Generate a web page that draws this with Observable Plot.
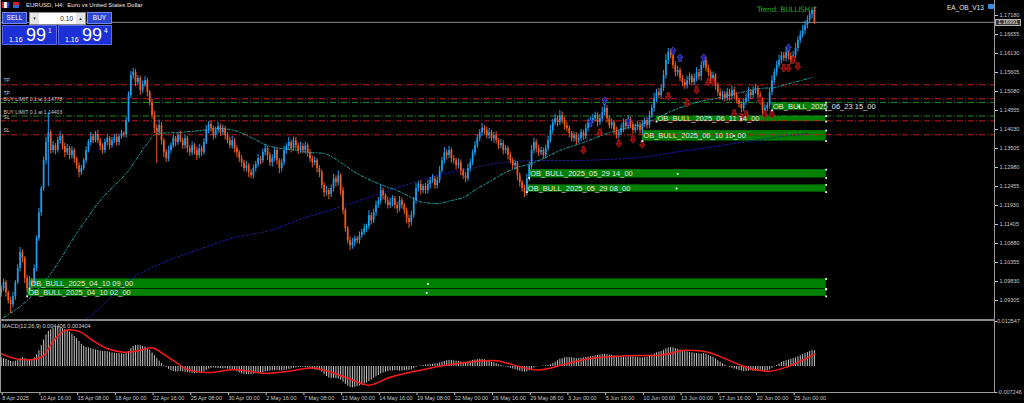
<!DOCTYPE html>
<html><head><meta charset="utf-8">
<script src="https://cdn.jsdelivr.net/npm/d3@7"></script>
<script src="https://cdn.jsdelivr.net/npm/@observablehq/plot@0.6"></script>
<style>
html,body{margin:0;padding:0;background:#000;}
#wrap{position:relative;width:1024px;height:403px;background:#000;overflow:hidden;font-family:"Liberation Sans","DejaVu Sans",Arial,sans-serif;}
.abs{position:absolute;white-space:nowrap;}
</style></head><body><div id="wrap"></div>
<script>
// ---------- DATA ----------
const firstOpen = 1.0950;
const closes = [
1.0963,1.0980,1.0952,1.0930,1.0919,1.0941,1.0980,1.1019,1.1063,1.1046,
1.0991,1.0963,1.0985,1.0974,1.1019,1.1101,1.1173,1.1240,1.1317,1.1367,
1.1394,1.1345,1.1358,1.1345,1.1372,1.1383,1.1356,1.1339,1.1350,1.1331,
1.1345,1.1322,1.1303,1.1284,1.1295,1.1317,1.1345,1.1367,1.1383,1.1372,
1.1389,1.1372,1.1356,1.1345,1.1367,1.1378,1.1358,1.1372,1.1381,1.1367,
1.1383,1.1392,1.1389,1.1428,1.1497,1.1552,1.1560,1.1533,1.1544,1.1511,
1.1527,1.1538,1.1505,1.1478,1.1441,1.1406,1.1394,1.1414,1.1372,1.1339,
1.1322,1.1345,1.1358,1.1378,1.1367,1.1386,1.1372,1.1358,1.1378,1.1350,
1.1339,1.1358,1.1345,1.1331,1.1350,1.1339,1.1367,1.1400,1.1417,1.1406,
1.1386,1.1400,1.1411,1.1394,1.1406,1.1386,1.1372,1.1358,1.1372,1.1350,
1.1339,1.1322,1.1311,1.1295,1.1303,1.1284,1.1275,1.1295,1.1306,1.1322,
1.1317,1.1339,1.1350,1.1331,1.1311,1.1322,1.1345,1.1317,1.1295,1.1311,
1.1345,1.1356,1.1367,1.1350,1.1372,1.1358,1.1345,1.1356,1.1345,1.1358,
1.1339,1.1322,1.1311,1.1317,1.1295,1.1284,1.1248,1.1228,1.1234,1.1223,
1.1240,1.1267,1.1256,1.1275,1.1234,1.1179,1.1129,1.1096,1.1082,1.1090,
1.1101,1.1096,1.1110,1.1118,1.1129,1.1135,1.1165,1.1151,1.1173,1.1193,
1.1206,1.1234,1.1220,1.1206,1.1193,1.1201,1.1212,1.1193,1.1184,1.1206,
1.1193,1.1179,1.1157,1.1146,1.1165,1.1206,1.1240,1.1251,1.1234,1.1245,
1.1234,1.1251,1.1262,1.1267,1.1248,1.1262,1.1289,1.1317,1.1339,1.1331,
1.1345,1.1322,1.1317,1.1303,1.1311,1.1289,1.1275,1.1267,1.1295,1.1311,
1.1339,1.1358,1.1378,1.1394,1.1406,1.1400,1.1386,1.1394,1.1378,1.1386,
1.1372,1.1358,1.1364,1.1345,1.1350,1.1331,1.1317,1.1303,1.1309,1.1275,
1.1256,1.1240,1.1228,1.1267,1.1303,1.1345,1.1367,1.1350,1.1339,1.1345,
1.1331,1.1350,1.1372,1.1400,1.1422,1.1433,1.1422,1.1441,1.1428,1.1414,
1.1406,1.1392,1.1378,1.1386,1.1372,1.1378,1.1394,1.1383,1.1406,1.1422,
1.1428,1.1433,1.1441,1.1422,1.1433,1.1450,1.1461,1.1433,1.1414,1.1422,
1.1400,1.1386,1.1394,1.1406,1.1422,1.1411,1.1428,1.1417,1.1400,1.1408,
1.1414,1.1400,1.1417,1.1428,1.1414,1.1441,1.1461,1.1489,1.1505,1.1497,
1.1516,1.1552,1.1594,1.1616,1.1607,1.1580,1.1560,1.1566,1.1544,1.1533,
1.1524,1.1538,1.1549,1.1533,1.1544,1.1560,1.1549,1.1580,1.1594,1.1572,
1.1560,1.1544,1.1552,1.1524,1.1505,1.1494,1.1500,1.1489,1.1505,1.1494,
1.1511,1.1497,1.1483,1.1472,1.1461,1.1478,1.1489,1.1505,1.1497,1.1511,
1.1516,1.1497,1.1483,1.1455,1.1461,1.1469,1.1505,1.1538,1.1560,1.1580,
1.1594,1.1607,1.1599,1.1616,1.1605,1.1594,1.1607,1.1627,1.1649,1.1663,
1.1676,1.1690,1.1705,1.1720,1.1732,1.1699];
// wick lengths in pips (0.0001)
const upWick = [
8,10,6,5,9,12,6,10,14,8, 6,9,12,7,10,8,12,6,10,15, 55,8,12,6,10,14,6,9,12,7,
10,6,5,8,9,6,10,8,12,7, 9,12,6,8,10,12,6,9,8,10, 7,9,6,8,10,12,12,9,8,6,
10,11,7,6,8,12,10,15,8,6, 9,12,8,10,6,9,12,7,10,6, 8,11,6,9,12,7,10,14,8,9,
6,10,12,7,9,6,8,10,12,6, 8,6,9,7,12,6,8,10,9,12, 7,10,12,6,8,11,9,7,6,10,
12,8,14,6,10,9,7,12,8,10, 6,9,7,10,6,8,7,9,12,6, 10,12,8,14,6,9,7,6,10,12,
8,6,10,9,12,7,14,8,10,12, 9,15,7,6,10,12,8,6,9,12, 8,6,7,10,12,9,14,8,10,7,
9,12,8,11,6,10,12,9,14,8, 12,7,9,6,10,8,6,9,12,10, 8,12,10,9,14,8,10,12,7,9,
10,6,12,8,9,6,8,7,10,6, 8,6,9,12,10,14,12,8,10,9, 7,10,12,14,9,12,8,14,10,8,
9,7,6,10,8,12,9,7,12,10, 9,12,10,8,12,14,28,8,7,10, 6,9,8,12,10,9,14,8,7,10,
12,8,10,9,8,12,10,14,9,12, 10,14,16,11,9,8,10,12,7,9, 8,12,10,7,12,14,9,10,12,8,
9,7,10,6,8,10,9,8,12,10, 12,8,9,6,7,10,12,14,8,10, 12,8,9,7,10,8,12,14,10,12,
14,10,9,12,8,10,12,14,10,12, 14,12,12,10,8,9];
const downWick = [
10,8,12,9,25,8,10,6,9,12, 14,10,8,12,6,9,7,10,8,12, 122,10,8,12,7,9,10,14,8,12,
9,12,10,14,8,6,9,7,10,8, 6,9,12,10,8,9,12,7,8,10, 9,7,8,10,6,9,10,12,8,14,
9,7,12,10,9,14,85,8,12,14, 10,8,9,7,12,8,6,10,9,12, 10,9,12,14,8,10,7,6,9,10,
12,8,9,10,7,12,9,8,10,12, 14,10,12,9,10,14,8,9,10,7, 12,8,9,14,10,12,8,12,14,9,
8,10,9,12,7,10,12,8,9,10, 12,10,14,8,12,14,10,12,9,14, 8,10,12,9,14,12,10,9,13,10,
12,9,10,8,7,10,9,12,8,10, 8,10,12,9,10,8,12,10,14,9, 10,12,14,16,10,8,9,10,12,8,
10,9,12,8,10,9,8,7,10,12, 9,12,10,12,9,14,10,12,8,9, 8,10,7,9,10,12,9,10,8,12,
9,10,8,12,10,12,9,10,12,14, 12,10,13,9,8,10,9,12,10,8, 10,9,8,7,10,9,12,8,10,12,
10,12,9,10,12,8,9,10,8,9, 10,8,9,12,8,9,10,12,9,10, 12,10,9,8,12,10,9,12,10,8,
9,10,12,8,10,9,8,10,12,9, 8,9,10,12,9,10,12,10,9,12, 10,9,12,10,8,9,10,12,8,10,
12,10,9,12,10,9,12,10,8,12, 10,12,9,10,12,9,8,10,12,9, 10,9,12,10,12,9,10,8,9,10,
9,10,8,9,10,12,9,8,10,9, 8,10,9,8,10,6];
// MACD main (histogram), units of 0.0001
const macdHist = [
24,22,20,17,14,13,15,18,22,24, 22,20,19,20,24,32,44,58,74,88, 98,102,106,108,109,108,106,103,100,96,
90,84,78,70,62,56,53,52,50,48, 46,45,43,42,42,41,40,38,37,36, 36,35,34,36,42,50,56,58,59,58,
56,54,50,45,38,30,22,15,8,2, -3,-8,-12,-14,-15,-15,-14,-15,-16,-17, -18,-19,-20,-19,-18,-17,-15,-11,-7,-5,
-4,-5,-6,-6,-7,-6,-7,-8,-10,-12, -15,-18,-20,-22,-23,-23,-22,-21,-20,-19, -18,-17,-15,-14,-13,-12,-12,-11,-12,-12,
-11,-10,-8,-7,-5,-4,-3,-3,-2,-3, -4,-6,-8,-10,-11,-12,-16,-22,-28,-32, -34,-33,-34,-35,-38,-44,-50,-55,-58,-59,
-58,-56,-54,-52,-49,-46,-42,-38,-33,-29, -25,-21,-18,-16,-14,-13,-12,-12,-12,-13, -13,-12,-12,-11,-9,-6,-3,0,2,3,
4,5,5,6,7,8,10,12,14,16, 17,17,16,15,14,13,12,12,13,15, 17,18,19,20,20,19,17,15,12,10,
8,5,3,1,-1,-3,-5,-7,-9,-11, -13,-15,-16,-15,-12,-8,-4,-1,0,1, 1,2,3,5,8,12,16,20,22,24,
25,25,24,23,22,22,23,24,25,26, 27,28,30,31,32,33,34,33,32,31, 30,29,28,27,26,26,26,27,27,26,
25,24,24,25,26,29,32,35,38,40, 42,45,49,52,53,52,50,48,46,44, 42,41,40,38,37,36,35,35,36,34,
31,28,25,21,16,12,8,4,0,-3, -5,-7,-9,-11,-13,-14,-14,-13,-12,-13, -13,-12,-12,-14,-14,-12,-9,-5,-1,3,
7,11,14,16,18,20,22,24,27,30, 33,36,39,42,45,44];
// MACD signal line, read at these bars (units of 0.0001)
const signalBars = [0,6,14,18,22,27,33,39,45,52,58,64,69,74,79,88,99,112,122,132,141,148,156,165,175,188,200,210,221,228,240,250,265,280,290,300,307,318,326,333,340,345];
const signalVals = [36,22,20,30,70,100,98,72,50,40,44,52,34,12,-8,-17,-8,-19,-13,-4,-18,-35,-52,-30,-14,3,13,16,-2,-10,8,22,30,32,45,40,22,-6,-13,-2,18,34];
// moving averages
const maFastBars = [1,11,21,32,42,54,62,66,75,85,92,99,106,113,119,123,131,137,144,151,157,162,168,174,179,185,191,196,202,208,213,219,225,230,237,247,257,266,276,285,295,305,314,322,328,336,344];
const maFastPrices = [1.08836,1.09305,1.10051,1.11157,1.12068,1.12897,1.13643,1.13920,1.13947,1.14003,1.14058,1.14003,1.13809,1.13588,1.13505,1.13477,1.13395,1.13367,1.13118,1.12814,1.12621,1.12483,1.12345,1.12151,1.12013,1.11985,1.12068,1.12151,1.12400,1.12621,1.12814,1.12980,1.13091,1.13229,1.13450,1.13671,1.13920,1.14085,1.14279,1.14555,1.14776,1.14914,1.15053,1.15163,1.15191,1.15329,1.15467];
const maSlowBars = [25,35,56,71,85,99,114,128,143,157,171,185,199,213,229,243,257,271,285,300,314,328,343];
const maSlowPrices = [1.08476,1.08753,1.09941,1.10411,1.10742,1.11046,1.11240,1.11571,1.11875,1.12179,1.12483,1.12759,1.12953,1.13118,1.13174,1.13174,1.13201,1.13257,1.13395,1.13533,1.13671,1.13809,1.13920];
// pending order / TP / SL levels
const levelPrices = [1.15265,1.14880,1.14778,1.14403,1.14270,1.13884];
const levelKinds = ["tp","tp","buy","buy","sl","sl"];
const levelLabels = ["TP","TP","BUY LIMIT 0.1 at 1.14778","BUY LIMIT 0.1 at 1.14403","SL","SL"];
// order-block zones
const obNames = ["OB_BULL_2025_04_10 09_00","OB_BULL_2025_04_10 02_00","OB_BULL_2025_05_29 14_00","OB_BULL_2025_05_29 08_00","OB_BULL_2025_06_10 10_00","OB_BULL_2025_06_11 14_00","OB_BULL_2025_06_23 15_00"];
const obStart = [12,11,224,223,272,278,327];
const obEnd = 350;
const obTop = [1.0990,1.0961,1.1292,1.1250,1.1400,1.1440,1.1477];
const obBottom = [1.0963,1.0942,1.1269,1.1230,1.1371,1.1425,1.1456];
// signal arrows
const downArrowBars = [247,254,262,268,272,283,291,295,300,302,311,314,316,322,324,327,332,334,336,338];
const downArrowPrices = [1.1345,1.1394,1.1364,1.1375,1.1361,1.1494,1.1475,1.1511,1.1533,1.1533,1.1447,1.1436,1.1444,1.1483,1.1444,1.1444,1.1572,1.1572,1.1594,1.1577];
const upArrowBars = [250,256,266,285,288,298,334];
const upArrowPrices = [1.1422,1.1483,1.1425,1.1621,1.1602,1.1602,1.1630];
// axes
const priceTicks = [1.17180,1.16655,1.16130,1.15605,1.15080,1.14555,1.14030,1.13505,1.12980,1.12455,1.11930,1.11405,1.10880,1.10355,1.09830,1.09305];
const macdTopTick = 0.012547;
const macdBottomTick = -0.007246;
const timeTickBars = [0,16,32,48,64,80,96,112,128,144,160,176,192,208,224,240,256,272,288,304,320,336];
const timeLabels = ["8 Apr 2025","10 Apr 16:00","15 Apr 08:00","18 Apr 00:00","22 Apr 16:00","25 Apr 08:00","30 Apr 00:00","2 May 16:00","7 May 08:00","12 May 00:00","14 May 16:00","19 May 08:00","22 May 00:00","26 May 16:00","29 May 08:00","3 Jun 00:00","5 Jun 16:00","10 Jun 00:00","13 Jun 00:00","17 Jun 16:00","20 Jun 00:00","25 Jun 00:00"];
const currentPrice = 1.16991;

// ---------- BUILD ----------
const xDomain = [-0.3, 421.4];
const yDomain = [1.087529, 1.175945];
const bullC = "#1e9ff0", bearC = "#f25a1e";
const candles = closes.map((c, i) => {
  const o = i === 0 ? firstOpen : closes[i - 1];
  return {i, o, c, h: Math.max(o, c) + upWick[i] / 1e4, l: Math.min(o, c) - downWick[i] / 1e4, col: c >= o ? bullC : bearC};
});
const levels = levelPrices.map((p, k) => ({k, p, kind: levelKinds[k], col: levelKinds[k] === "buy" ? "#1c8c1c" : "#c41a1a", label: levelLabels[k]}));
const obs = obNames.map((name, k) => ({name, x1: obStart[k], x2: obEnd, top: obTop[k], bottom: obBottom[k]}));
const obDots = obs.flatMap(b => [{x: b.x2, y: b.top}, {x: b.x2, y: b.bottom}, {x: (b.x1 + b.x2) / 2, y: (b.top + b.bottom) / 2}, {x: b.x1, y: b.bottom}]);
const maFast = maFastBars.map((b, k) => ({b, p: maFastPrices[k]}));
const maSlow = maSlowBars.map((b, k) => ({b, p: maSlowPrices[k]}));
const downArrows = downArrowBars.map((b, k) => ({b, p: downArrowPrices[k]}));
const upArrows = upArrowBars.map((b, k) => ({b, p: upArrowPrices[k]}));
const hist = macdHist.map((v, i) => ({i, v: v / 1e4}));
const signal = signalBars.map((b, k) => ({b, v: signalVals[k] / 1e4}));
const timeLabelMap = new Map(timeTickBars.map((b, k) => [b, timeLabels[k]]));

const arrowDown = {draw(ctx, size) { const r = Math.sqrt(size / Math.PI);
  ctx.moveTo(-0.45*r, -1.3*r); ctx.lineTo(0.45*r, -1.3*r); ctx.lineTo(0.45*r, 0); ctx.lineTo(r, 0);
  ctx.lineTo(0, 1.2*r); ctx.lineTo(-r, 0); ctx.lineTo(-0.45*r, 0); ctx.closePath(); }};
const arrowUp = {draw(ctx, size) { const r = Math.sqrt(size / Math.PI);
  ctx.moveTo(-0.45*r, 1.3*r); ctx.lineTo(0.45*r, 1.3*r); ctx.lineTo(0.45*r, 0); ctx.lineTo(r, 0);
  ctx.lineTo(0, -1.2*r); ctx.lineTo(-r, 0); ctx.lineTo(-0.45*r, 0); ctx.closePath(); }};

// label offsets above each level line (styling)
const labelDy = [-4.5, -5, -3, -4, -3, -4];
const levelText = (k) => Plot.text(levels.filter(d => d.k === k), {x: xDomain[0], y: "p", text: "label", textAnchor: "start", dx: 3, dy: labelDy[k], fontSize: 5.1, fill: "#c8c8c8"});

const font = "Liberation Sans, DejaVu Sans, Arial, sans-serif";
const main = Plot.plot({
  width: 1024, height: 320, marginTop: 0, marginBottom: 0, marginLeft: 0, marginRight: 30,
  style: {background: "transparent", color: "#c8c8c8", fontFamily: font, overflow: "visible"},
  x: {domain: xDomain, axis: null},
  y: {domain: yDomain, axis: null},
  marks: [
    Plot.rect(obs, {x1: "x1", x2: "x2", y1: "bottom", y2: "top", fill: "#008000"}),
    Plot.ruleY(levels, {y: "p", stroke: "col", strokeWidth: 1, strokeDasharray: "6,2,1,2"}),
    Plot.ruleY([currentPrice], {stroke: "#8c8c8c", strokeWidth: 1}),
    Plot.line(maSlow, {x: "b", y: "p", stroke: "#1c1ca8", strokeWidth: 1, strokeDasharray: "2,2", curve: "monotone-x", clip: true}),
    Plot.line(maFast, {x: "b", y: "p", stroke: "#1aa6a6", strokeWidth: 1, strokeDasharray: "3,2,1,2", curve: "monotone-x", clip: true}),
    Plot.ruleX(candles, {x: "i", y1: "l", y2: "h", stroke: "col", strokeWidth: 1}),
    Plot.ruleX(candles, {x: "i", y1: "o", y2: d => (d.c === d.o ? d.c + 0.00003 : d.c), stroke: "col", strokeWidth: 1.7}),
    Plot.dot(downArrows, {x: "b", y: "p", symbol: arrowDown, r: 3, fill: "#8a0000", stroke: "#c83030", strokeWidth: 0.6}),
    Plot.dot(upArrows, {x: "b", y: "p", symbol: arrowUp, r: 3, fill: "#1a1a9a", stroke: "#5a6ae0", strokeWidth: 0.6}),
    ...levels.map(d => levelText(d.k)),
    Plot.text(obs, {x: "x1", y: d => (d.top + d.bottom) / 2, text: "name", textAnchor: "start", dx: 1, fontSize: 7.5, fill: "#e6e6e6"}),
    Plot.dot(obDots, {x: "x", y: "y", symbol: "square", r: 1, fill: "#ffffff"}),
    Plot.axisY(priceTicks, {anchor: "right", label: null, tickSize: 3, tickPadding: 2, fontSize: 5.5, tickFormat: d => d.toFixed(5)})
  ]
});

const macd = Plot.plot({
  width: 1024, height: 89, marginTop: 7, marginBottom: 11, marginLeft: 0, marginRight: 30,
  style: {background: "transparent", color: "#c8c8c8", fontFamily: font, overflow: "visible"},
  x: {domain: xDomain, axis: null},
  y: {domain: [macdBottomTick, macdTopTick], axis: null},
  marks: [
    Plot.ruleX(hist, {x: "i", y1: 0, y2: "v", stroke: "#c4c4c4", strokeWidth: 1}),
    Plot.line(signal, {x: "b", y: "v", stroke: "#ff1a1a", strokeWidth: 1.5, curve: "catmull-rom"}),
    Plot.axisX(timeTickBars, {anchor: "bottom", label: null, tickSize: 3, tickPadding: 1, fontSize: 5.5, textAnchor: "start", dx: 1, tickFormat: d => timeLabelMap.get(d)}),
    Plot.axisY([macdTopTick, macdBottomTick], {anchor: "right", label: null, tickSize: 2, tickPadding: 0.5, fontSize: 5.5, tickFormat: d => d.toFixed(6)})
  ]
});

const wrap = document.getElementById("wrap");
function place(node, left, top) { const d = document.createElement("div"); d.className = "abs"; d.style.left = left + "px"; d.style.top = top + "px"; d.appendChild(node); wrap.appendChild(d); return d; }
place(main, 0, 0);
place(macd, 0, 314);
function box(left, top, w, h, css, html) { const d = document.createElement("div"); d.className = "abs"; d.style.cssText += `left:${left}px;top:${top}px;width:${w}px;height:${h}px;` + (css || ""); if (html) d.innerHTML = html; wrap.appendChild(d); return d; }
// frame lines
box(0, 0, 1, 392, "background:#9a9a9a;");
box(994, 0, 1, 393, "background:#9a9a9a;");
box(0, 319, 995, 2, "background:#8a8a8a;");
box(0, 392, 995, 1, "background:#9a9a9a;");
// current price tag
box(995, 19, 26, 7, "background:#3a3a3a;border:1px solid #b0b0b0;box-sizing:border-box;color:#e8e8e8;font-size:5.5px;line-height:5px;text-align:center;", currentPrice.toFixed(5));
// header
box(2, 2, 7, 6, "background:linear-gradient(90deg,#d22 0 33%,#eee 33% 66%,#24c 66%);");
box(13, 2, 6, 6, "background:linear-gradient(#c22 0 50%,#36c 50%);");
box(26, 1, 200, 8, "color:#e6e6e6;font-size:6px;line-height:8px;", "EURUSD, H4:&nbsp; Euro vs United States Dollar");
// one-click panel
box(2, 12, 25, 12, "background:#2a46d2;border:1px solid #7486ea;box-sizing:border-box;color:#fff;font-size:6.5px;line-height:10px;text-align:center;", "SELL");
box(29, 12, 57, 13, "background:#fff;border:1px solid #8a8a8a;box-sizing:border-box;");
box(30, 13, 9, 11, "background:#e4e4e4;color:#333;font-size:5px;line-height:11px;text-align:center;", "▾");
box(76, 13, 9, 11, "background:#e4e4e4;color:#333;font-size:5px;line-height:11px;text-align:center;", "▴");
box(55, 13, 18, 11, "color:#222;font-size:6.5px;line-height:11px;text-align:right;", "0.10");
box(87, 12, 25, 12, "background:#2a46d2;border:1px solid #7486ea;box-sizing:border-box;color:#fff;font-size:6.5px;line-height:10px;text-align:center;", "BUY");
box(2, 25, 55, 20, "background:#1b30d6;border:1px solid #5b6de6;box-sizing:border-box;");
box(58, 25, 54, 20, "background:#1b30d6;border:1px solid #5b6de6;box-sizing:border-box;");
box(9, 36, 16, 8, "color:#fff;font-size:7px;line-height:8px;", "1.16");
box(26, 25, 22, 20, "color:#fff;font-size:18px;line-height:20px;", "99");
box(48, 27, 6, 8, "color:#fff;font-size:6.5px;line-height:8px;", "1");
box(65, 36, 16, 8, "color:#fff;font-size:7px;line-height:8px;", "1.16");
box(82, 25, 22, 20, "color:#fff;font-size:18px;line-height:20px;", "99");
box(104, 27, 6, 8, "color:#fff;font-size:6.5px;line-height:8px;", "4");
// EA label and trend label
box(947, 4, 40, 8, "color:#e6e6e6;font-size:6.5px;line-height:8px;", "EA_OB_V13");
box(988, 4, 6, 5, "background:#3a8ee8;border-radius:1px;");
box(757, 5, 80, 10, "color:#1fa51f;font-size:7.5px;line-height:10px;font-family:'DejaVu Sans','Liberation Sans',sans-serif;letter-spacing:-0.3px;", "Trend: BULLISH ↑");
// MACD label
box(2, 322, 120, 8, "color:#d0d0d0;font-size:5.6px;line-height:8px;", "MACD(12,26,9) 0.004406 0.003404");
</script></body></html>
